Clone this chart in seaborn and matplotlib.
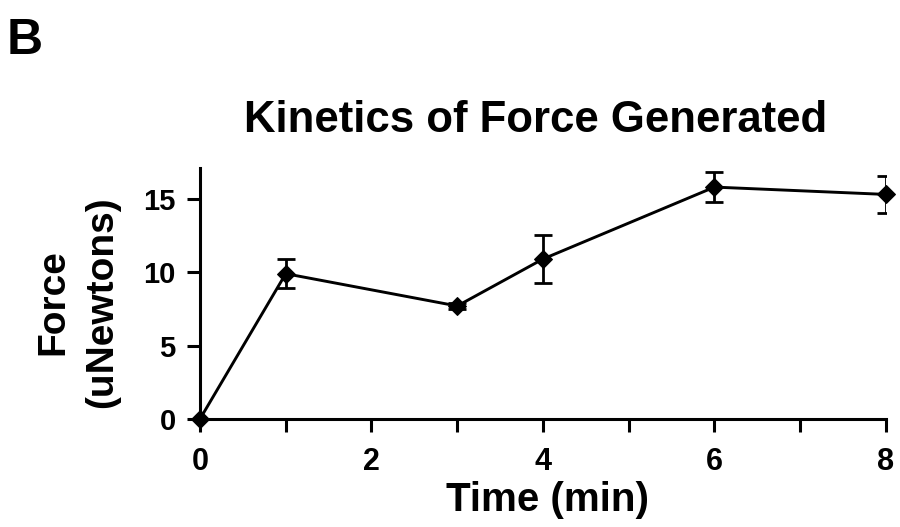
import matplotlib
matplotlib.use("Agg")
import matplotlib.pyplot as plt
import seaborn as sns
import pandas as pd

# Data
time_min = [0, 1, 3, 4, 6, 8]
force_un = [0.0, 9.9, 7.7, 10.9, 15.8, 15.3]
force_err = [0.0, 1.0, 0.2, 1.65, 1.0, 1.25]
x_ticks = [0, 1, 2, 3, 4, 5, 6, 7, 8]
x_tick_labels = ["0", "", "2", "", "4", "", "6", "", "8"]
y_ticks = [0, 5, 10, 15]

sns.set_style("ticks")
plt.rcParams['font.family'] = ['Liberation Sans', 'DejaVu Sans']
plt.rcParams['font.weight'] = 'bold'
for k in ['text.color', 'axes.labelcolor', 'xtick.color', 'ytick.color', 'axes.edgecolor']:
    plt.rcParams[k] = 'black'

df = pd.DataFrame({"Time": time_min, "Force": force_un, "Err": force_err})

fig = plt.figure(figsize=(9, 5.27), dpi=100)
ax = fig.add_axes([0.2222, 0.2049, 0.7622, 0.4763])

ax.errorbar(df["Time"], df["Force"], yerr=df["Err"], fmt="none",
            ecolor="black", elinewidth=2, capsize=6.5, capthick=2, zorder=2)
sns.lineplot(data=df, x="Time", y="Force", ax=ax, color="black",
             linewidth=2.1, marker="D", markersize=9, markeredgecolor="black",
             markerfacecolor="black", clip_on=False, zorder=3)

ax.set_xlim(0, 8)
ax.set_ylim(0, 17.1)
ax.set_xticks(x_ticks)
ax.set_xticklabels(x_tick_labels)
ax.set_yticks(y_ticks)
ax.set_yticklabels([str(v) for v in y_ticks])

sns.despine(ax=ax)
for s in ["left", "bottom"]:
    ax.spines[s].set_linewidth(2.2)
    ax.spines[s].set_color("black")

ax.tick_params(axis="both", direction="out", length=9.5, width=2.2, color="black")
ax.tick_params(axis="x", labelsize=22, pad=11)
ax.tick_params(axis="y", labelsize=21, pad=8)
for lbl in ax.get_xticklabels() + ax.get_yticklabels():
    lbl.set_fontweight("bold")

ax.set_xlabel("Time (min)", fontsize=29, fontweight="bold")
ax.xaxis.set_label_coords(0.507, -0.245)
ax.set_ylabel("Force\n(uNewtons)", fontsize=28, fontweight="bold", linespacing=1.45)
ax.yaxis.set_label_coords(-0.116, 0.466)

ax.set_title("Kinetics of Force Generated", fontsize=31.5, fontweight="bold", pad=26, x=0.49)

fig.text(0.007, 0.965, "B", fontsize=36, fontweight="bold", ha="left", va="top")

fig.savefig("out.png", dpi=100)
